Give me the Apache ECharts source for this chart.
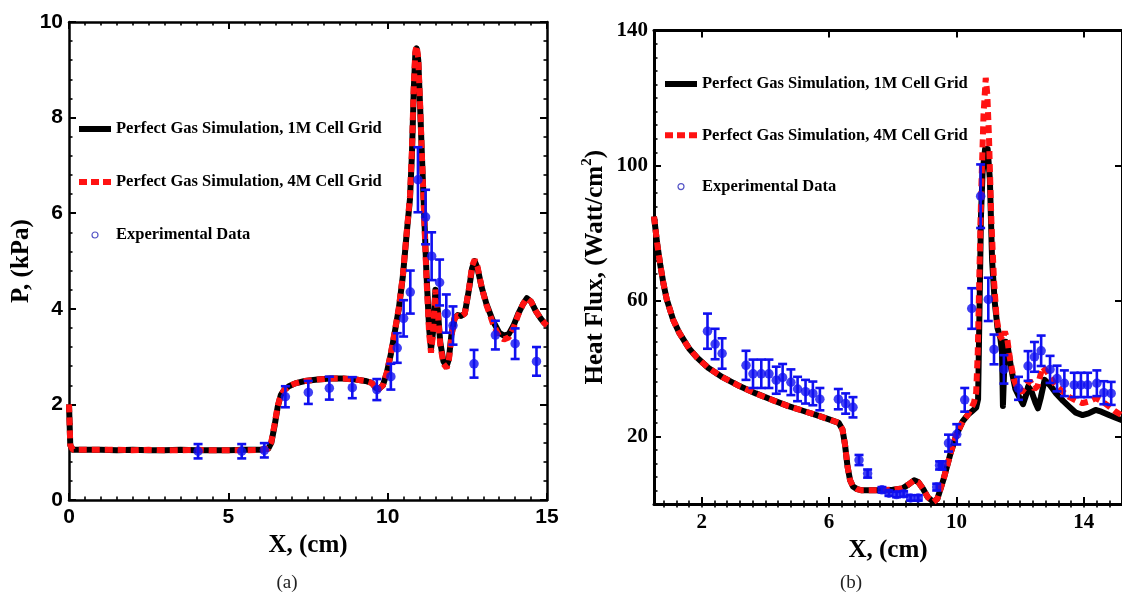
<!DOCTYPE html>
<html><head><meta charset="utf-8">
<script src="https://cdn.jsdelivr.net/npm/echarts@6/dist/echarts.min.js"></script>
<style>html,body{margin:0;padding:0;background:#fff}#c{width:1122px;height:597px}</style>
</head><body><div id="c"></div>
<script>
// ---------- names ----------
const NAME_1M = 'Perfect Gas Simulation, 1M Cell Grid';
const NAME_4M = 'Perfect Gas Simulation, 4M Cell Grid';
const NAME_EXP = 'Experimental Data';

// ---------- tick labels ----------
const heatXTicks = [2, 6, 10, 14];
const heatYTicks = [20, 60, 100, 140];

// ---------- (a) pressure, [x cm, P kPa] ----------
const press1M = [[0,2.0],[0.04,1.15],[0.12,1.05],[0.5,1.05],[1,1.05],[1.5,1.04],[2,1.05],[2.5,1.04],[3,1.04],[3.5,1.05],[4,1.04],[4.5,1.04],[5,1.04],[5.5,1.05],[6,1.05],[6.25,1.07],[6.35,1.2],[6.45,1.55],[6.55,1.95],[6.65,2.2],[6.75,2.3],[6.9,2.38],[7.1,2.44],[7.4,2.49],[7.8,2.52],[8.2,2.54],[8.6,2.54],[9.0,2.52],[9.3,2.49],[9.5,2.45],[9.62,2.35],[9.72,2.32],[9.85,2.4],[9.97,2.65],[10.1,3.05],[10.22,3.5],[10.35,4.0],[10.48,4.7],[10.6,5.6],[10.7,6.3],[10.76,7.2],[10.82,8.6],[10.87,9.35],[10.91,9.45],[10.96,9.2],[11.02,8.2],[11.08,7.1],[11.15,5.9],[11.22,4.7],[11.3,3.6],[11.36,3.15],[11.42,3.5],[11.5,4.4],[11.57,4.0],[11.65,3.3],[11.75,2.9],[11.85,2.8],[11.92,2.95],[12.0,3.45],[12.1,3.8],[12.2,3.87],[12.3,3.85],[12.42,3.9],[12.55,4.4],[12.65,4.85],[12.73,5.0],[12.82,4.85],[12.95,4.45],[13.1,4.1],[13.3,3.75],[13.5,3.5],[13.65,3.44],[13.8,3.47],[13.95,3.65],[14.1,3.9],[14.25,4.1],[14.37,4.22],[14.5,4.15],[14.65,3.95],[14.8,3.8],[14.92,3.7],[15,3.65]];
const press4M = [[0,2.0],[0.04,1.15],[0.12,1.05],[0.5,1.05],[1,1.05],[1.5,1.05],[2,1.04],[2.5,1.05],[3,1.04],[3.5,1.04],[4,1.05],[4.5,1.04],[5,1.04],[5.5,1.04],[6,1.05],[6.25,1.07],[6.35,1.22],[6.45,1.58],[6.55,1.97],[6.65,2.2],[6.75,2.3],[6.9,2.38],[7.1,2.44],[7.4,2.49],[7.8,2.52],[8.2,2.54],[8.6,2.54],[9.0,2.52],[9.3,2.49],[9.5,2.45],[9.62,2.35],[9.72,2.32],[9.85,2.4],[9.97,2.66],[10.1,3.07],[10.22,3.52],[10.35,4.02],[10.48,4.72],[10.6,5.62],[10.7,6.35],[10.76,7.3],[10.82,8.7],[10.87,9.4],[10.91,9.5],[10.96,9.25],[11.02,8.25],[11.08,7.1],[11.15,5.85],[11.22,4.6],[11.3,3.5],[11.36,3.08],[11.42,3.45],[11.5,4.4],[11.57,3.95],[11.65,3.25],[11.75,2.85],[11.85,2.76],[11.92,2.92],[12.0,3.42],[12.1,3.8],[12.2,3.86],[12.3,3.84],[12.42,3.9],[12.55,4.42],[12.65,4.9],[12.73,5.03],[12.82,4.88],[12.95,4.45],[13.1,4.08],[13.3,3.7],[13.5,3.42],[13.65,3.36],[13.8,3.4],[13.95,3.6],[14.1,3.88],[14.25,4.1],[14.37,4.22],[14.5,4.15],[14.65,3.95],[14.8,3.8],[14.92,3.7],[15,3.65]];
// [x, P, error]
const pressExp = [[4.05,1.02,0.15],[5.42,1.02,0.15],[6.13,1.04,0.15],[6.79,2.16,0.22],[7.51,2.25,0.24],[8.17,2.34,0.24],[8.89,2.35,0.22],[9.66,2.31,0.22],[10.1,2.58,0.27],[10.3,3.18,0.31],[10.5,3.8,0.38],[10.71,4.35,0.45],[10.95,6.7,0.68],[11.19,5.92,0.57],[11.38,5.1,0.5],[11.63,4.55,0.48],[11.84,3.9,0.4],[12.05,3.65,0.4],[12.71,2.85,0.29],[13.38,3.45,0.3],[14.0,3.27,0.32],[14.67,2.9,0.3]];

// ---------- (b) heat flux, [x cm, q W/cm2] ----------
const heat1M = [[0.5,85],[0.6,77],[0.7,70.5],[0.8,65],[0.9,60.5],[1.1,54.5],[1.3,50.5],[1.6,46],[1.85,43.3],[2.2,40.3],[2.65,37.5],[3.2,34.8],[3.7,32.7],[4.2,30.8],[4.7,29],[5.2,27.5],[5.7,26],[6.0,25],[6.3,24],[6.42,22],[6.5,17.5],[6.58,11],[6.66,7],[6.75,5.2],[6.88,4.4],[7.0,4.1],[7.5,4.1],[8.0,4.2],[8.3,4.6],[8.5,5.8],[8.67,7.0],[8.8,6.5],[8.95,4.5],[9.1,2.0],[9.28,0.6],[9.4,1.5],[9.5,4.5],[9.6,7.5],[9.8,14.5],[10.0,20.5],[10.2,24.5],[10.35,26.3],[10.5,27.5],[10.62,28.5],[10.68,31],[10.72,55],[10.77,85],[10.82,98],[10.9,105],[10.98,105],[11.05,96],[11.12,72],[11.2,60],[11.29,52],[11.38,49],[11.43,45],[11.46,29],[11.5,40],[11.55,48],[11.62,46],[11.72,40],[11.85,34],[11.98,31.5],[12.09,29.5],[12.18,32],[12.25,34.7],[12.35,33.5],[12.48,30],[12.56,28.3],[12.65,31.5],[12.77,36.7],[12.95,35],[13.13,32.7],[13.35,30.5],[13.54,28.8],[13.75,27],[13.96,26.3],[14.15,26.8],[14.37,27.8],[14.55,27.3],[14.79,26.3],[15.0,25.5],[15.2,24.8]];
const heat4M = [[0.5,85],[0.6,77],[0.7,70.5],[0.8,65],[0.9,60.5],[1.1,54.5],[1.3,50.5],[1.6,46],[1.85,43.3],[2.2,40.3],[2.65,37.5],[3.2,34.8],[3.7,32.7],[4.2,30.8],[4.7,29],[5.2,27.5],[5.7,26],[6.0,25],[6.3,24],[6.42,22],[6.5,17.5],[6.58,11],[6.66,7],[6.75,5.2],[6.88,4.4],[7.0,4.1],[7.5,4.1],[8.0,4.2],[8.3,4.6],[8.5,5.8],[8.67,7.0],[8.8,6.5],[8.95,4.5],[9.1,2.0],[9.28,0.6],[9.4,1.5],[9.5,4.5],[9.6,7.5],[9.8,14.5],[10.0,20.5],[10.2,24.5],[10.35,26.3],[10.45,28],[10.55,30],[10.62,33],[10.67,45],[10.72,68],[10.78,93],[10.85,115],[10.92,126],[10.97,121],[11.02,109],[11.1,83],[11.18,66],[11.26,55],[11.35,50],[11.45,48.5],[11.52,51],[11.6,48.5],[11.68,43],[11.8,37],[11.9,34.5],[12.05,33],[12.2,35],[12.3,36.5],[12.45,34],[12.55,34.8],[12.7,40.5],[12.85,39],[13.1,35.3],[13.3,33.5],[13.55,31.6],[13.8,30.4],[13.96,29.8],[14.15,30.3],[14.37,31.3],[14.6,30.2],[14.8,28.8],[15.0,27.3],[15.2,26.2]];
// [x, q, error]
const heatExp = [[2.18,51.1,5.2],[2.42,47.3,4.5],[2.64,44.5,4.5],[3.39,41.0,4.3],[3.61,38.5,4.2],[3.87,38.5,4.2],[4.11,38.5,4.2],[4.34,36.6,4.0],[4.54,37.4,4.0],[4.8,36.0,3.8],[5.01,34.0,3.6],[5.26,33.2,3.5],[5.49,32.7,3.5],[5.71,31.0,3.3],[6.29,31.0,3.0],[6.52,29.7,3.0],[6.75,28.6,3.0],[6.94,13.0,1.5],[7.21,9.0,1.2],[7.66,4.2,0.8],[7.88,3.2,0.8],[8.12,2.8,0.8],[8.34,3.0,0.8],[8.56,1.8,0.8],[8.8,1.8,0.8],[9.38,5.0,1.0],[9.47,11.4,1.2],[9.55,11.4,1.2],[9.75,18.0,2.5],[10.01,20.6,3.0],[10.26,30.8,3.5],[10.48,57.8,6.0],[10.76,91.0,9.4],[11.0,60.5,6.4],[11.18,45.7,4.4],[11.49,39.8,4.2],[11.95,34.2,3.4],[12.25,40.8,4.4],[12.45,43.5,4.4],[12.66,45.3,4.5],[12.94,39.8,4.0],[13.16,37.1,3.8],[13.39,35.7,3.8],[13.7,35.2,3.6],[13.91,35.2,3.6],[14.12,35.2,3.6],[14.41,35.7,3.8],[14.63,32.9,3.4],[14.86,32.7,3.4]];

// ---------- styling ----------
const BLUE = '#1010f0', RED = '#ff1212', BLACK = '#000';
const SERIF = '"Liberation Serif","Times New Roman",serif';
const SANS = '"Liberation Sans",Arial,sans-serif';

// minor tick values for panel (b)
const heatXMinor = []; for (let i = 2; i * 0.4 < 15.2; i++) heatXMinor.push(Math.round(i * 4) / 10);
const heatYMinor = []; for (let v = 4; v < 140; v += 4) heatYMinor.push(v);

const lineAx = w => ({show: true, onZero: false, lineStyle: {color: BLACK, width: w}});
const noSplit = {splitLine: {show: false}, minorSplitLine: {show: false}};

function errRender(params, api) {
  const x = api.value(0), y = api.value(1), e = api.value(2);
  const t = api.coord([x, y + e]), b = api.coord([x, y - e]);
  const hw = 4.5;
  const st = {stroke: BLUE, lineWidth: 2.6};
  return {type: 'group', children: [
    {type: 'line', shape: {x1: t[0], y1: t[1], x2: b[0], y2: b[1]}, style: st},
    {type: 'line', shape: {x1: t[0] - hw, y1: t[1], x2: t[0] + hw, y2: t[1]}, style: st},
    {type: 'line', shape: {x1: b[0] - hw, y1: b[1], x2: b[0] + hw, y2: b[1]}, style: st}
  ]};
}

const legendText = {fontFamily: SERIF, fontWeight: 'bold', fontSize: 16.5, lineHeight: 20, color: BLACK};
const legendData = [
  {name: NAME_1M, icon: 'rect', itemStyle: {color: BLACK}},
  {name: NAME_4M, icon: 'path://M0,0h8v6h-8zM12,0h8v6h-8zM24,0h8v6h-8z', itemStyle: {color: RED}},
  {name: NAME_EXP, icon: 'circle', itemStyle: {color: '#fff', borderColor: '#2a2ab8', borderWidth: 1.2}}
];

const option = {
  animation: false,
  backgroundColor: '#fff',
  grid: [
    {left: 69, top: 22, width: 478, height: 478},
    {left: 654, top: 30.5, right: -4, height: 473.5}
  ],
  legend: [
    {left: 79, top: 119, padding: 0, orient: 'vertical', itemWidth: 32, itemHeight: 6, itemGap: 33, selectedMode: false,
     textStyle: legendText, data: legendData},
    {left: 665, top: 74, padding: 0, orient: 'vertical', itemWidth: 32, itemHeight: 6, itemGap: 31.3, selectedMode: false,
     textStyle: legendText, data: legendData}
  ],
  xAxis: [
    Object.assign({type: 'value', gridIndex: 0, position: 'bottom', min: 0, max: 15, interval: 5,
      axisLine: lineAx(2.5), axisTick: {show: true, inside: true, length: 7, lineStyle: {width: 2}},
      minorTick: {show: true, splitNumber: 10, length: 3.5, lineStyle: {color: BLACK, width: 1.6}},
      axisLabel: {margin: 7, fontFamily: SANS, fontWeight: 'bold', fontSize: 21, color: BLACK},
      name: 'X, (cm)', nameLocation: 'middle', nameGap: 32,
      nameTextStyle: {fontFamily: SERIF, fontWeight: 'bold', fontSize: 25, color: BLACK}}, noSplit),
    Object.assign({type: 'value', gridIndex: 0, position: 'top', min: 0, max: 15, interval: 5,
      axisLine: lineAx(2.5), axisTick: {show: true, inside: true, length: 7, lineStyle: {width: 2}},
      minorTick: {show: true, splitNumber: 10, length: 3.5, lineStyle: {color: BLACK, width: 1.6}},
      axisLabel: {show: false}}, noSplit),
    Object.assign({type: 'value', gridIndex: 1, position: 'bottom', min: 0.5, max: 15.2,
      axisLine: lineAx(3), axisTick: {show: true, inside: true, length: 7, lineStyle: {width: 2}, customValues: heatXTicks},
      axisLabel: {margin: 8, customValues: heatXTicks, fontFamily: SERIF, fontWeight: 'bold', fontSize: 21, color: BLACK},
      name: 'X, (cm)', nameLocation: 'middle', nameGap: 30,
      nameTextStyle: {fontFamily: SERIF, fontWeight: 'bold', fontSize: 25, color: BLACK}}, noSplit),
    Object.assign({type: 'value', gridIndex: 1, position: 'bottom', min: 0.5, max: 15.2,
      axisLine: {show: false}, axisTick: {show: true, inside: true, length: 3.5, lineStyle: {width: 1.6, color: BLACK}, customValues: heatXMinor},
      axisLabel: {show: false}}, noSplit),
    Object.assign({type: 'value', gridIndex: 1, position: 'top', min: 0.5, max: 15.2,
      axisLine: lineAx(3), axisTick: {show: true, inside: true, length: 7, lineStyle: {width: 2}, customValues: heatXTicks},
      axisLabel: {show: false}}, noSplit),
    Object.assign({type: 'value', gridIndex: 1, position: 'top', min: 0.5, max: 15.2,
      axisLine: {show: false}, axisTick: {show: true, inside: true, length: 3.5, lineStyle: {width: 1.6, color: BLACK}, customValues: heatXMinor},
      axisLabel: {show: false}}, noSplit)
  ],
  yAxis: [
    Object.assign({type: 'value', gridIndex: 0, position: 'left', min: 0, max: 10, interval: 2,
      axisLine: lineAx(2.5), axisTick: {show: true, inside: true, length: 7, lineStyle: {width: 2}},
      minorTick: {show: true, splitNumber: 5, length: 3.5, lineStyle: {color: BLACK, width: 1.6}},
      axisLabel: {margin: 6, fontFamily: SANS, fontWeight: 'bold', fontSize: 21, color: BLACK},
      name: 'P, (kPa)', nameLocation: 'middle', nameGap: 35,
      nameTextStyle: {fontFamily: SERIF, fontWeight: 'bold', fontSize: 25, color: BLACK}}, noSplit),
    Object.assign({type: 'value', gridIndex: 0, position: 'right', min: 0, max: 10, interval: 2,
      axisLine: lineAx(2.5), axisTick: {show: true, inside: true, length: 7, lineStyle: {width: 2}},
      minorTick: {show: true, splitNumber: 5, length: 3.5, lineStyle: {color: BLACK, width: 1.6}},
      axisLabel: {show: false}}, noSplit),
    Object.assign({type: 'value', gridIndex: 1, position: 'left', min: 0, max: 140,
      axisLine: lineAx(3), axisTick: {show: true, inside: true, length: 7, lineStyle: {width: 2}, customValues: heatYTicks},
      axisLabel: {margin: 6, customValues: heatYTicks, fontFamily: SERIF, fontWeight: 'bold', fontSize: 21, color: BLACK},
      name: '{t|Heat Flux, (Watt/cm}{s|2}{t|)}', nameLocation: 'middle', nameGap: 42,
      nameTextStyle: {rich: {
        t: {fontFamily: SERIF, fontWeight: 'bold', fontSize: 25, color: BLACK, lineHeight: 32},
        s: {fontFamily: SERIF, fontWeight: 'bold', fontSize: 15, color: BLACK, verticalAlign: 'top', lineHeight: 16}
      }}}, noSplit),
    Object.assign({type: 'value', gridIndex: 1, position: 'left', min: 0, max: 140,
      axisLine: {show: false}, axisTick: {show: true, inside: true, length: 3.5, lineStyle: {width: 1.6, color: BLACK}, customValues: heatYMinor},
      axisLabel: {show: false}}, noSplit),
    Object.assign({type: 'value', gridIndex: 1, position: 'right', min: 0, max: 140,
      axisLine: lineAx(3), axisTick: {show: true, inside: true, length: 7, lineStyle: {width: 2}, customValues: heatYTicks},
      axisLabel: {show: false}}, noSplit)
  ],
  series: [
    {name: NAME_1M, type: 'line', xAxisIndex: 0, yAxisIndex: 0, data: press1M, symbol: 'none', z: 2,
     lineStyle: {color: BLACK, width: 6, join: 'round'}, itemStyle: {color: BLACK}},
    {name: NAME_4M, type: 'line', xAxisIndex: 0, yAxisIndex: 0, data: press4M, symbol: 'none', z: 3,
     lineStyle: {color: RED, width: 6, type: [8, 5], cap: 'butt'}, itemStyle: {color: RED}},
    {type: 'custom', xAxisIndex: 0, yAxisIndex: 0, data: pressExp, renderItem: errRender, encode: {x: 0, y: 1}, z: 4, silent: true},
    {name: NAME_EXP, type: 'scatter', xAxisIndex: 0, yAxisIndex: 0, data: pressExp, symbol: 'circle', symbolSize: 9.5,
     itemStyle: {color: BLUE}, z: 5},

    {name: NAME_1M, type: 'line', xAxisIndex: 2, yAxisIndex: 2, data: heat1M, symbol: 'none', z: 2,
     lineStyle: {color: BLACK, width: 6, join: 'round'}, itemStyle: {color: BLACK}},
    {name: NAME_4M, type: 'line', xAxisIndex: 2, yAxisIndex: 2, data: heat4M, symbol: 'none', z: 3,
     lineStyle: {color: RED, width: 6, type: [8, 5], cap: 'butt'}, itemStyle: {color: RED}},
    {type: 'custom', xAxisIndex: 2, yAxisIndex: 2, data: heatExp, renderItem: errRender, encode: {x: 0, y: 1}, z: 4, silent: true},
    {name: NAME_EXP, type: 'scatter', xAxisIndex: 2, yAxisIndex: 2, data: heatExp, symbol: 'circle', symbolSize: 9.5,
     itemStyle: {color: BLUE}, z: 5}
  ],
  graphic: [
    {type: 'text', x: 287, y: 583, style: {text: '(a)', font: '19px ' + SERIF, fill: '#222', align: 'center', verticalAlign: 'middle'}},
    {type: 'text', x: 851, y: 583, style: {text: '(b)', font: '19px ' + SERIF, fill: '#222', align: 'center', verticalAlign: 'middle'}}
  ]
};

const chart = echarts.init(document.getElementById('c'), null, {renderer: 'canvas'});
chart.setOption(option);
</script></body></html>
